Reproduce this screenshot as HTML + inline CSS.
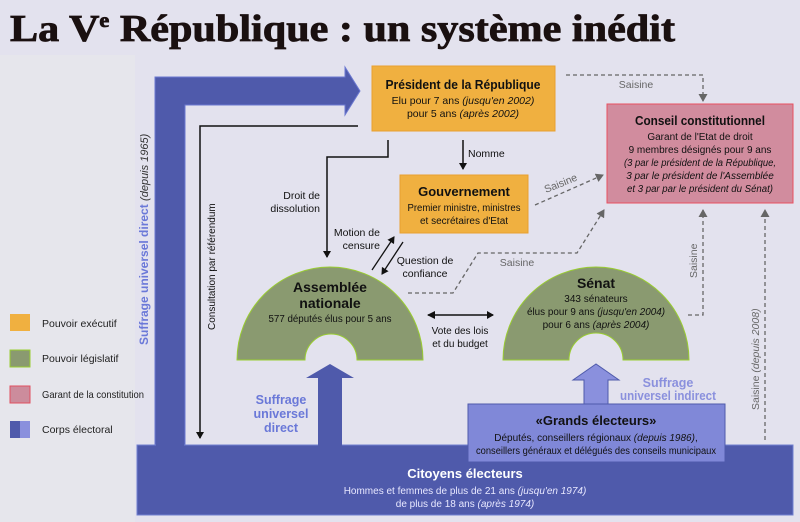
<!DOCTYPE html>
<html><head><meta charset="utf-8"><style>
body{margin:0;background:#e3e2ee;}
svg{display:block;font-family:"Liberation Sans",sans-serif;}
</style></head><body>
<svg width="800" height="522" viewBox="0 0 800 522" xmlns="http://www.w3.org/2000/svg">
<defs>
<marker id="ab" markerWidth="8" markerHeight="8" refX="6" refY="4" orient="auto" markerUnits="userSpaceOnUse"><path d="M0,0 L7,4 L0,8 Z" fill="#111"/></marker>
<marker id="ag" markerWidth="9" markerHeight="9" refX="7" refY="4.5" orient="auto" markerUnits="userSpaceOnUse"><path d="M0,0 L8,4.5 L0,9 Z" fill="#666"/></marker>
</defs>
<rect width="800" height="522" fill="#e3e2ee"/>
<rect x="0" y="55" width="135" height="467" fill="#e6e6ec"/>
<text x="10" y="41" font-family="Liberation Serif,serif" font-weight="bold" font-size="38" textLength="665" lengthAdjust="spacingAndGlyphs" fill="#1a1010" stroke="#1a1010" stroke-width="0.8">La V<tspan font-size="20" dy="-14">e</tspan><tspan dy="14"> République : un système inédit</tspan></text>

<!-- legend -->
<rect x="10" y="314" width="20" height="17" fill="#f0b040"/>
<text x="42" y="327" font-size="10.5" fill="#222">Pouvoir exécutif</text>
<rect x="10" y="350" width="20" height="17" fill="#8a9a70" stroke="#9acd32"/>
<text x="42" y="362" font-size="10.5" fill="#222">Pouvoir législatif</text>
<rect x="10" y="386" width="20" height="17" fill="#cc8c9c" stroke="#e05060"/>
<text x="42" y="398" font-size="10.5" fill="#222" textLength="102" lengthAdjust="spacingAndGlyphs">Garant de la constitution</text>
<rect x="10" y="421" width="10" height="17" fill="#4f5aab"/><rect x="20" y="421" width="10" height="17" fill="#8a90dd"/>
<text x="42" y="433" font-size="10.5" fill="#222">Corps électoral</text>

<!-- big blue arrow -->
<path d="M155,445 L155,77 L345,77 L345,67 L360,91 L345,115 L345,105 L185,105 L185,445 Z" fill="#4f5aab" stroke="#6b78d0"/>
<text transform="translate(148,345) rotate(-90)" font-size="12" font-weight="bold" fill="#6a78d8">Suffrage universel direct <tspan font-weight="normal" font-style="italic" fill="#333" font-size="11">(depuis 1965)</tspan></text>

<!-- citizens bar -->
<rect x="137" y="445" width="656" height="70" fill="#4f5aab" stroke="#7080d0"/>
<rect x="156" y="440" width="28" height="8" fill="#4f5aab"/>
<text x="465" y="478" text-anchor="middle" font-size="13" font-weight="bold" fill="#fff">Citoyens électeurs</text>
<text x="465" y="494" text-anchor="middle" font-size="10" fill="#e8e8ff">Hommes et femmes de plus de 21 ans <tspan font-style="italic">(jusqu'en 1974)</tspan></text>
<text x="465" y="507" text-anchor="middle" font-size="10" fill="#e8e8ff">de plus de 18 ans <tspan font-style="italic">(après 1974)</tspan></text>

<!-- up arrow assemblee -->
<path d="M318,446 L318,378 L306,378 L330,364 L354,378 L342,378 L342,446 Z" fill="#4f5aab"/>
<text x="281" y="404" text-anchor="middle" font-size="12.5" font-weight="bold" fill="#6a78d8">Suffrage</text>
<text x="281" y="418" text-anchor="middle" font-size="12.5" font-weight="bold" fill="#6a78d8">universel</text>
<text x="281" y="432" text-anchor="middle" font-size="12.5" font-weight="bold" fill="#6a78d8">direct</text>

<!-- grands electeurs -->
<path d="M584,405 L584,380 L573,380 L596,364 L619,380 L608,380 L608,405 Z" fill="#8a90dd" stroke="#4f5aab"/>
<rect x="468" y="404" width="257" height="58" fill="#8088d8" stroke="#4f5aab"/>
<text x="596" y="425" text-anchor="middle" font-size="13" font-weight="bold" fill="#111">«Grands électeurs»</text>
<text x="596" y="441" text-anchor="middle" font-size="10" fill="#111">Députés, conseillers régionaux <tspan font-style="italic">(depuis 1986)</tspan>,</text>
<text x="596" y="454" text-anchor="middle" font-size="10" fill="#111" textLength="240" lengthAdjust="spacingAndGlyphs">conseillers généraux et délégués des conseils municipaux</text>
<text x="668" y="387" text-anchor="middle" font-size="12.5" font-weight="bold" fill="#8a90dd">Suffrage</text>
<text x="668" y="400" text-anchor="middle" font-size="12.5" font-weight="bold" fill="#8a90dd" textLength="96" lengthAdjust="spacingAndGlyphs">universel indirect</text>

<!-- assemblee -->
<path d="M237,360 A93,93 0 0 1 423,360 L357,360 A26,26 0 0 0 305,360 Z" fill="#8a9a70" stroke="#9acd32"/>
<text x="330" y="292" text-anchor="middle" font-size="14" font-weight="bold" fill="#111">Assemblée</text>
<text x="330" y="308" text-anchor="middle" font-size="14" font-weight="bold" fill="#111">nationale</text>
<text x="330" y="322" text-anchor="middle" font-size="10" fill="#111" textLength="123" lengthAdjust="spacingAndGlyphs">577 députés élus pour 5 ans</text>

<!-- senat -->
<path d="M503,360 A93,93 0 0 1 689,360 L623,360 A27,27 0 0 0 569,360 Z" fill="#8a9a70" stroke="#9acd32"/>
<text x="596" y="288" text-anchor="middle" font-size="14" font-weight="bold" fill="#111">Sénat</text>
<text x="596" y="302" text-anchor="middle" font-size="10" fill="#111">343 sénateurs</text>
<text x="596" y="315" text-anchor="middle" font-size="10" fill="#111" textLength="138" lengthAdjust="spacingAndGlyphs">élus pour 9 ans <tspan font-style="italic">(jusqu'en 2004)</tspan></text>
<text x="596" y="328" text-anchor="middle" font-size="10" fill="#111">pour 6 ans <tspan font-style="italic">(après 2004)</tspan></text>

<!-- vote des lois -->
<line x1="428" y1="315" x2="493" y2="315" stroke="#111" stroke-width="1.5" marker-end="url(#ab)"/>
<path d="M435,311 L427,315 L435,319Z" fill="#111"/>
<text x="460" y="334" text-anchor="middle" font-size="10" fill="#111">Vote des lois</text>
<text x="460" y="347" text-anchor="middle" font-size="10" fill="#111">et du budget</text>

<!-- president -->
<rect x="372" y="66" width="183" height="65" fill="#f0b040" stroke="#e8a030"/>
<text x="463" y="89" text-anchor="middle" font-size="12.5" font-weight="bold" fill="#111" textLength="155" lengthAdjust="spacingAndGlyphs">Président de la République</text>
<text x="463" y="104" text-anchor="middle" font-size="10.5" fill="#111">Elu pour 7 ans <tspan font-style="italic">(jusqu'en 2002)</tspan></text>
<text x="463" y="117" text-anchor="middle" font-size="10.5" fill="#111">pour 5 ans <tspan font-style="italic">(après 2002)</tspan></text>

<!-- gouvernement -->
<rect x="400" y="175" width="128" height="58" fill="#f0b040" stroke="#e8a030"/>
<text x="464" y="196" text-anchor="middle" font-size="13" font-weight="bold" fill="#111">Gouvernement</text>
<text x="464" y="211" text-anchor="middle" font-size="10" fill="#111" textLength="113" lengthAdjust="spacingAndGlyphs">Premier ministre, ministres</text>
<text x="464" y="224" text-anchor="middle" font-size="10" fill="#111">et secrétaires d'Etat</text>

<!-- conseil -->
<rect x="607" y="104" width="186" height="99" fill="#d18c9e" stroke="#e85060"/>
<text x="700" y="125" text-anchor="middle" font-size="13" font-weight="bold" fill="#111" textLength="130" lengthAdjust="spacingAndGlyphs">Conseil constitutionnel</text>
<text x="700" y="140" text-anchor="middle" font-size="10" fill="#111">Garant de l'Etat de droit</text>
<text x="700" y="153" text-anchor="middle" font-size="10" fill="#111">9 membres désignés pour 9 ans</text>
<text x="700" y="166" text-anchor="middle" font-size="10" font-style="italic" fill="#111" textLength="152" lengthAdjust="spacingAndGlyphs">(3 par le président de la République,</text>
<text x="700" y="179" text-anchor="middle" font-size="10" font-style="italic" fill="#111">3 par le président de l'Assemblée</text>
<text x="700" y="192" text-anchor="middle" font-size="10" font-style="italic" fill="#111" textLength="146" lengthAdjust="spacingAndGlyphs">et 3 par par le président du Sénat)</text>

<!-- solid connectors -->
<polyline points="358,126 200,126 200,438" fill="none" stroke="#111" stroke-width="1.5" marker-end="url(#ab)"/>
<text transform="translate(215,330) rotate(-90)" font-size="10" fill="#111">Consultation par référendum</text>
<polyline points="388,140 388,157 327,157 327,257" fill="none" stroke="#111" stroke-width="1.5" marker-end="url(#ab)"/>
<text x="320" y="199" text-anchor="end" font-size="10.5" fill="#111">Droit de</text>
<text x="320" y="212" text-anchor="end" font-size="10.5" fill="#111">dissolution</text>
<line x1="463" y1="140" x2="463" y2="169" stroke="#111" stroke-width="1.5" marker-end="url(#ab)"/>
<text x="468" y="157" font-size="10.5" fill="#111">Nomme</text>
<line x1="372" y1="270" x2="394" y2="237" stroke="#111" stroke-width="1.3" marker-end="url(#ab)"/>
<line x1="403" y1="242" x2="382" y2="274" stroke="#111" stroke-width="1.3" marker-end="url(#ab)"/>
<text x="380" y="236" text-anchor="end" font-size="10.5" fill="#111">Motion de</text>
<text x="380" y="249" text-anchor="end" font-size="10.5" fill="#111">censure</text>
<text x="425" y="264" text-anchor="middle" font-size="10.5" fill="#111">Question de</text>
<text x="425" y="277" text-anchor="middle" font-size="10.5" fill="#111">confiance</text>

<!-- dashed saisine -->
<g fill="none" stroke="#666" stroke-width="1.3" stroke-dasharray="4,3">
<polyline points="566,75 703,75 703,101" marker-end="url(#ag)"/>
<line x1="535" y1="205" x2="603" y2="175" marker-end="url(#ag)"/>
<polyline points="408,293 453,293 478,253 577,253 604,210" marker-end="url(#ag)"/>
<polyline points="688,315 703,315 703,210" marker-end="url(#ag)"/>
<line x1="765" y1="440" x2="765" y2="210" marker-end="url(#ag)"/>
</g>
<text x="636" y="88" text-anchor="middle" font-size="10.5" fill="#666">Saisine</text>
<text transform="translate(546,193) rotate(-22)" font-size="10.5" fill="#666">Saisine</text>
<text x="517" y="266" text-anchor="middle" font-size="10.5" fill="#666">Saisine</text>
<text transform="translate(697,278) rotate(-90)" font-size="10.5" fill="#666">Saisine</text>
<text transform="translate(759,410) rotate(-90)" font-size="10.5" fill="#666">Saisine <tspan font-style="italic">(depuis 2008)</tspan></text>
</svg>
</body></html>
